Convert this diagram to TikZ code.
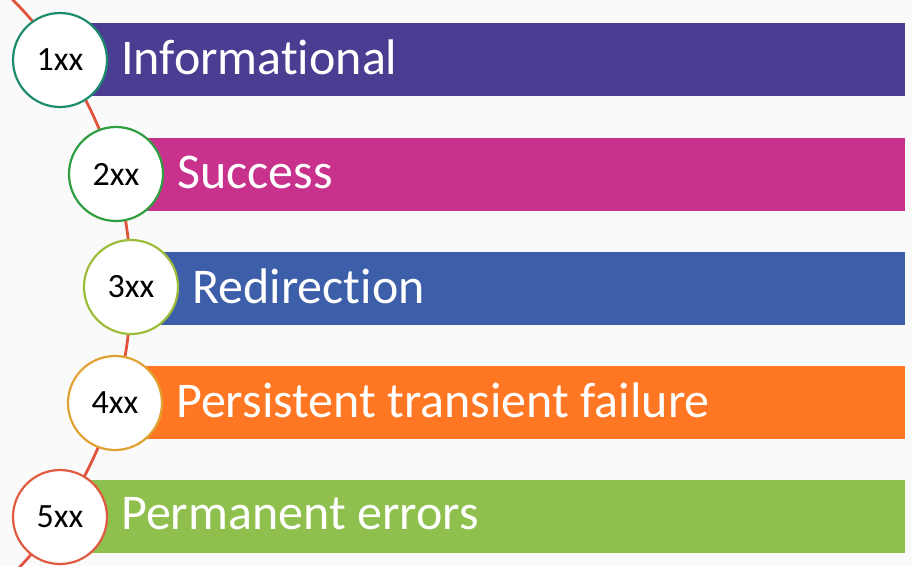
\documentclass[tikz,border=0pt]{standalone}
\usepackage{fontspec}
\setmainfont[Ligatures=CommonOff]{Carlito}
\definecolor{bgc}{HTML}{FAFAFA}
\definecolor{arcc}{HTML}{E2533D}
\definecolor{barA}{HTML}{4B3D92}
\definecolor{barB}{HTML}{C8328C}
\definecolor{barC}{HTML}{3D5EA9}
\definecolor{barD}{HTML}{FF7722}
\definecolor{barE}{HTML}{8FC04E}
\definecolor{ringA}{HTML}{1E8A6E}
\definecolor{ringB}{HTML}{2E9E40}
\definecolor{ringC}{HTML}{9CBC3A}
\definecolor{ringD}{HTML}{E0A232}
\definecolor{ringE}{HTML}{E05A40}
\tikzset{
  bubble/.style={circle, draw=#1, line width=2.2pt, fill=white, minimum size=94pt, inner sep=0pt, font=\fontsize{34}{36}\selectfont, text=black},
  barbox/.style={rectangle, fill=#1, minimum height=73pt, inner sep=0pt, anchor=west},
  bartext/.style={anchor=west, inner sep=0pt, text=white, font=\fontsize{50}{54}\selectfont},
}
\newcommand{\mybar}[5]{% name, color, cx, cy, text
  \pgfmathsetmacro{\bw}{905-#3}
  \node[barbox=#2, minimum width=\bw pt] (#1) at (#3,#4) {};
  \node[bartext] (#1t) at (#3+61,#4-2) {#5};
}
\begin{document}
\begin{tikzpicture}[x=1pt,y=-1pt]
\fill[bgc] (0,0) rectangle (912,566);
\useasboundingbox (0,0) rectangle (912,566);
\begin{scope}
\clip (0,0) rectangle (912,566);
\draw[arcc, line width=2.8pt] (-277,287) ++(-50:408) arc[start angle=-50, end angle=50, radius=408];
\end{scope}
\mybar{b1}{barA}{60}{59.5}{Informational}
\mybar{b2}{barB}{116}{174}{Success}
\mybar{b3}{barC}{131}{288}{Redirection}
\mybar{b4}{barD}{115}{402.5}{Persistent transient failure}
\mybar{b5}{barE}{60}{516}{Permanent errors}
\node[bubble=ringA] (c1) at (60,60) {1xx};
\node[bubble=ringB] (c2) at (116,174) {2xx};
\node[bubble=ringC] (c3) at (131,287) {3xx};
\node[bubble=ringD] (c4) at (115,403) {4xx};
\node[bubble=ringE] (c5) at (60,517) {5xx};
\end{tikzpicture}
\end{document}
